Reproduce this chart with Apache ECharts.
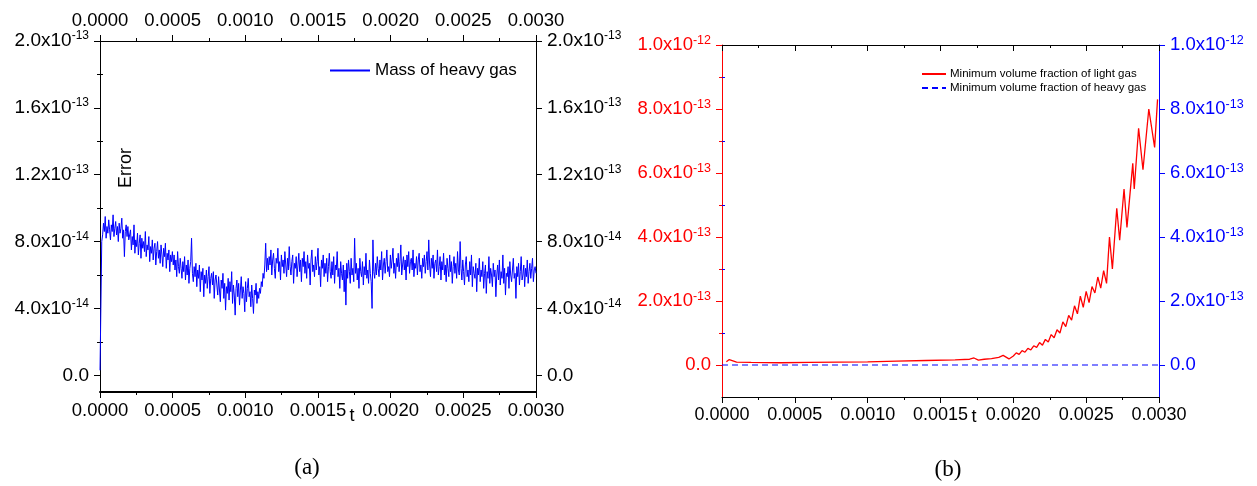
<!DOCTYPE html>
<html>
<head>
<meta charset="utf-8">
<script src="https://cdn.jsdelivr.net/npm/echarts@6/dist/echarts.min.js"></script>
<style>html,body{margin:0;padding:0;background:#fff}#c{width:1257px;height:486px}</style>
</head>
<body>
<div id="c"></div>
<script>
// ---------- DATA ----------
// (a) Error in mass of heavy gas, values in units of 1e-14, equally spaced in t from 0 to 0.003
const massT0 = 0, massT1 = 0.003;
const massHeavyGas = [
  0.3, 4.0, 8.0,
  8.4, 9.1, 8.6, 9.5, 8.2, 8.9, 8.5, 9.3, 8.7, 8.1, 9.0, 8.6, 9.6, 8.3, 8.8, 9.2, 8.4, 8.9, 8.0, 9.1, 8.5, 8.8, 9.4, 8.2, 8.7, 7.1, 8.6, 9.0, 8.3, 8.9, 8.1,
  8.0, 8.7, 7.5, 8.3, 7.8, 9.0, 7.3, 8.1, 7.7, 8.5, 7.2, 7.9, 8.4, 7.0, 8.2, 7.6, 8.0, 7.4, 8.6, 7.1,
  7.8, 7.5, 8.3, 6.8, 7.7, 7.3, 8.1, 6.9, 7.6, 7.9, 6.6, 7.4, 8.0, 7.0, 7.5, 6.7, 7.8, 7.2, 6.5, 7.6,
  7.1, 7.9, 6.4, 7.3, 6.9, 7.5, 6.2, 7.2, 6.8, 7.4,
  6.6, 7.2, 6.3, 6.9, 5.9, 7.4, 6.5, 6.1, 7.0, 6.4, 5.8, 6.8, 6.2, 7.1, 5.7, 6.6, 6.0, 6.9, 5.5, 6.4,
  6.8, 8.2, 6.1, 5.6, 6.5, 5.9, 6.7, 5.3, 6.3, 5.8, 6.6, 5.0, 6.2, 5.7, 6.4, 4.7, 6.0, 5.5, 6.3, 5.2,
  5.9, 6.5, 4.9, 5.8, 6.1, 5.4, 6.2, 4.6, 5.7, 6.0,
  5.4, 4.8, 5.9, 5.1, 4.4, 5.7, 5.2, 6.1, 4.6, 5.5, 3.9, 5.3, 4.9, 5.8, 4.5, 5.6, 5.0, 6.2, 4.3, 5.4,
  4.8, 3.6, 5.2, 5.7, 4.7, 5.5, 4.2, 5.1, 5.9, 4.6, 5.3, 4.9, 3.8, 5.6, 4.4, 5.2, 5.8, 4.7, 5.0, 4.1,
  5.4, 4.6, 3.7, 5.1, 4.8, 5.5, 4.3, 5.0, 4.6, 5.2,
  4.9, 5.6, 5.3, 6.1, 5.8, 6.6, 7.9, 6.2, 7.0,
  6.3, 7.1, 6.6, 7.5, 6.0, 6.9, 7.3, 6.4, 5.8, 7.0, 6.7, 7.6, 6.2, 6.8, 5.7, 7.2, 6.5, 6.9, 6.1, 7.4,
  6.6, 5.9, 7.0, 6.3, 7.7, 6.5, 6.0, 6.8, 7.2, 5.5, 6.7, 6.4, 7.1, 5.9, 6.6, 7.3, 6.2, 6.9, 5.6, 7.0,
  6.5, 7.4, 6.1, 6.8, 5.8, 7.2, 6.4, 6.7, 5.4, 6.9, 7.5, 6.2, 6.6, 5.9, 7.1, 6.3, 6.8, 7.6, 6.0, 6.5,
  5.3, 6.9, 6.4, 7.2, 5.9, 6.7, 6.1, 7.0, 5.6, 6.5, 7.3, 6.2, 5.8, 6.8, 6.0, 7.1, 5.5, 6.6, 6.3, 7.4,
  5.9, 6.4, 5.2, 6.8, 6.1, 5.7, 6.6, 5.0, 6.3, 4.2, 6.7, 5.8, 6.9, 6.2, 5.5, 7.0, 6.0, 6.4, 5.6, 8.2,
  6.1, 6.7, 5.7, 6.4, 5.2, 7.0, 6.2, 5.9, 6.8, 5.4, 6.5, 6.0, 7.3, 5.8, 6.3, 5.5, 6.9, 6.1, 5.6, 4.0,
  8.1, 6.2, 5.8, 6.7, 6.0, 7.1, 6.4, 5.9, 6.9, 6.3, 7.4, 5.7, 6.6, 7.0, 6.1, 6.8, 7.5, 6.2, 6.5, 5.9,
  7.2, 6.4, 6.9, 7.6, 6.1, 6.7, 5.8, 7.0, 6.5, 7.3, 6.2, 6.8, 7.8, 6.0, 6.6, 7.1, 6.3, 6.9, 5.7, 7.2,
  6.5, 7.4, 6.1, 6.8, 7.0, 6.3, 7.5, 5.9, 6.7, 6.4, 7.1, 6.0, 6.9, 7.3, 6.2, 6.6, 5.8, 7.0, 6.5, 7.2,
  6.1, 6.8, 7.4, 6.3, 8.1, 6.6, 5.9, 7.0, 6.4, 7.2, 5.8, 6.7, 6.9, 6.2, 7.5, 6.0, 6.5, 7.1, 5.7, 6.8,
  6.3, 7.3, 6.0, 6.6, 5.6, 7.0, 6.4, 5.9, 7.2, 6.2, 6.8, 5.5, 6.5, 7.1, 6.1, 6.7, 5.8, 7.4, 6.3, 6.0,
  8.0, 6.4, 5.7, 6.9, 6.2, 5.4, 6.6, 7.1, 5.9, 6.3, 5.6, 6.8, 6.0, 7.2, 5.3, 6.5, 6.1, 5.8, 6.7, 5.0,
  6.4, 6.0, 7.0, 5.6, 6.3, 5.9, 6.8, 5.2, 6.1, 6.6, 4.9, 6.2, 5.8, 7.1, 5.5, 6.4, 6.0, 5.3, 6.7, 5.9,
  6.3, 4.7, 6.0, 6.6, 5.7, 6.9, 5.4, 6.2, 5.8, 7.2, 5.5, 6.4, 4.8, 6.1, 5.9, 6.5, 5.2, 6.8, 6.0, 5.6,
  6.3, 7.0, 5.8, 6.1, 4.6, 6.5, 5.9, 6.7, 5.4, 6.2, 7.1, 5.7, 6.0, 6.6, 5.3, 6.4, 5.9, 6.9, 5.5, 6.2,
  6.7, 5.8, 6.4, 7.0, 5.6, 6.3, 6.5, 6.1
];
// (b) Minimum volume fraction of light gas, values in units of 1e-13
const lightGasT = [
  0.00003, 0.00005, 0.00007, 0.0001, 0.0002, 0.0004, 0.0006, 0.0008, 0.0010, 0.0012, 0.0014, 0.0016,
  0.0017, 0.00173, 0.00176, 0.0018, 0.00185, 0.0019, 0.00193, 0.00197,
  0.00200, 0.00202, 0.00204, 0.00206, 0.00208, 0.00210, 0.00212, 0.00214, 0.00216, 0.00218,
  0.00220, 0.00222, 0.00224, 0.00226, 0.00228, 0.00230, 0.00232, 0.00234, 0.00236, 0.00238,
  0.00240, 0.00242, 0.00244, 0.00246, 0.00248, 0.00250, 0.00252, 0.00254, 0.00256, 0.00258,
  0.00260, 0.00262, 0.00264, 0.00266, 0.00268, 0.00271, 0.00273, 0.00276, 0.00278, 0.00282,
  0.00283, 0.00286, 0.00289, 0.00293, 0.00297, 0.00299
];
const lightGasV = [
  0.10, 0.17, 0.14, 0.09, 0.08, 0.07, 0.08, 0.09, 0.10, 0.12, 0.14, 0.16,
  0.18, 0.22, 0.15, 0.18, 0.20, 0.24, 0.30, 0.19,
  0.28, 0.38, 0.33, 0.45, 0.40, 0.52, 0.47, 0.60, 0.55, 0.70,
  0.62, 0.80, 0.72, 0.95, 0.85, 1.10, 1.00, 1.35, 1.20, 1.55,
  1.40, 1.85, 1.60, 2.15, 1.80, 2.30, 1.95, 2.45, 2.25, 2.75,
  2.40, 2.95, 2.55, 4.00, 3.00, 4.90, 3.90, 5.50, 4.30, 6.30,
  5.50, 7.40, 6.10, 8.00, 6.80, 8.30
];
// (b) Minimum volume fraction of heavy gas, units of 1e-13
const heavyGasT = [0, 0.0005, 0.0010, 0.0015, 0.0020, 0.0025, 0.0030];
const heavyGasV = [0, 0, 0, 0, 0, 0, 0];
// axis ticks
const xTicks = { min: 0, max: 0.003, step: 0.0005 };
const yTicksA = [0, 4, 8, 12, 16, 20];      // x1e-14
const yMinorA = [2, 6, 10, 14, 18];
const yRangeA = [-1, 20];
const yTicksB = [0, 2, 4, 6, 8, 10];        // x1e-13
const yMinorB = [1, 3, 5, 7, 9];
const yRangeB = [-1, 10];

// ---------- BUILD ----------
const FONT = 'Liberation Sans';
const massData = massHeavyGas.map((v, i) => [massT0 + (massT1 - massT0) * i / (massHeavyGas.length - 1), v]);
const lightData = lightGasT.map((t, i) => [t, lightGasV[i]]);
const heavyData = heavyGasT.map((t, i) => [t, heavyGasV[i]]);

function sci(unitExp) {
  return function (v) {
    if (Math.abs(v) < 1e-9) return '{m|0.0}';
    const p = Math.floor(Math.log10(Math.abs(v)) + 1e-9);
    const m = v / Math.pow(10, p);
    return '{m|' + m.toFixed(1) + 'x10}{s|' + (unitExp + p) + '}';
  };
}
function rich(color, size, ssize) {
  return {
    m: { fontSize: size, lineHeight: 22, color: color, fontFamily: FONT },
    s: { fontSize: ssize, lineHeight: 12, color: color, fontFamily: FONT, verticalAlign: 'top' }
  };
}
function xAxis(grid, pos, opts) {
  return {
    type: 'value', gridIndex: grid, position: pos,
    min: xTicks.min, max: xTicks.max, interval: xTicks.step,
    axisLine: { show: true, onZero: false, lineStyle: { color: '#000', width: opts.lineWidth || 1 } },
    axisTick: { show: true, inside: !!opts.inside, length: 6, lineStyle: { color: '#000' } },
    minorTick: { show: true, splitNumber: 2, length: 3, lineStyle: { color: '#000' } },
    splitLine: { show: false }, minorSplitLine: { show: false },
    axisLabel: {
      show: opts.labels !== false, margin: opts.margin || 9, color: '#000',
      fontSize: opts.fontSize || 18, fontFamily: FONT,
      formatter: v => v.toFixed(4)
    }
  };
}
function yAxis(grid, pos, range, ticks, color, unitExp, size, ssize) {
  return {
    type: 'value', gridIndex: grid, position: pos, min: range[0], max: range[1],
    axisLine: { show: true, onZero: false, lineStyle: { color: color, width: 1 } },
    axisTick: { show: true, inside: false, length: 6, customValues: ticks, lineStyle: { color: color } },
    splitLine: { show: false },
    axisLabel: {
      show: true, margin: 11, customValues: ticks, color: color,
      formatter: sci(unitExp), rich: rich(color, size, ssize)
    }
  };
}
function yMinor(grid, pos, range, ticks, color) {
  return {
    type: 'value', gridIndex: grid, position: pos, min: range[0], max: range[1],
    axisLine: { show: false },
    axisTick: { show: true, inside: false, length: 3, customValues: ticks, lineStyle: { color: color } },
    splitLine: { show: false },
    axisLabel: { show: false }
  };
}

const option = {
  animation: false,
  backgroundColor: '#ffffff',
  grid: [
    { left: 100, top: 41, width: 436, height: 351, containLabel: false },
    { left: 722, top: 45, width: 437, height: 352, containLabel: false }
  ],
  xAxis: [
    xAxis(0, 'bottom', { lineWidth: 2, fontSize: 18.5, margin: 9 }),
    xAxis(0, 'top', { lineWidth: 1, fontSize: 18.5, margin: 11 }),
    xAxis(1, 'bottom', { lineWidth: 1, fontSize: 18, margin: 9 }),
    xAxis(1, 'top', { lineWidth: 1, labels: false, inside: true })
  ],
  yAxis: [
    yAxis(0, 'left', yRangeA, yTicksA, '#000', -14, 19, 12),
    yMinor(0, 'left', yRangeA, yMinorA, '#000'),
    yAxis(0, 'right', yRangeA, yTicksA, '#000', -14, 19, 12),
    yMinor(0, 'right', yRangeA, yMinorA, '#000'),
    yAxis(1, 'left', yRangeB, yTicksB, '#ff0000', -13, 18.5, 12.5),
    yMinor(1, 'left', yRangeB, yMinorB, '#ff0000'),
    yAxis(1, 'right', yRangeB, yTicksB, '#0000ff', -13, 18.5, 12.5),
    yMinor(1, 'right', yRangeB, yMinorB, '#0000ff')
  ],
  legend: [
    {
      data: ['Mass of heavy gas'], left: 329, top: 62, padding: 0, itemWidth: 40, itemHeight: 14, itemGap: 4,
      itemStyle: { opacity: 0 },
      textStyle: { fontSize: 17, fontFamily: FONT, color: '#000' }
    },
    {
      data: ['Minimum volume fraction of light gas', 'Minimum volume fraction of heavy gas'],
      left: 921, top: 68, padding: 0, orient: 'vertical', itemWidth: 24, itemHeight: 12, itemGap: 2,
      itemStyle: { opacity: 0 },
      textStyle: { fontSize: 11.5, fontFamily: FONT, color: '#000', padding: [0, 0, 0, -1] }
    }
  ],
  series: [
    {
      name: 'Mass of heavy gas', type: 'line', xAxisIndex: 0, yAxisIndex: 0,
      data: massData, showSymbol: false, symbol: 'none',
      lineStyle: { color: '#0000ff', width: 1 }, itemStyle: { color: '#0000ff' }
    },
    {
      name: 'Minimum volume fraction of light gas', type: 'line', xAxisIndex: 2, yAxisIndex: 4,
      data: lightData, showSymbol: false, symbol: 'none',
      lineStyle: { color: '#ff0000', width: 1.3 }, itemStyle: { color: '#ff0000' }
    },
    {
      name: 'Minimum volume fraction of heavy gas', type: 'line', xAxisIndex: 2, yAxisIndex: 6,
      data: heavyData, showSymbol: false, symbol: 'none',
      lineStyle: { color: '#0000ff', width: 1.2, type: [6, 4] }, itemStyle: { color: '#0000ff' }
    }
  ],
  graphic: [
    { type: 'text', x: 352, y: 416, style: { text: 't', fontSize: 18, fontFamily: FONT, fill: '#000', align: 'center', verticalAlign: 'middle', textAlign: 'center', textVerticalAlign: 'middle' } },
    { type: 'text', x: 974, y: 417, style: { text: 't', fontSize: 18, fontFamily: FONT, fill: '#000', align: 'center', verticalAlign: 'middle', textAlign: 'center', textVerticalAlign: 'middle' } },
    { type: 'text', x: 126, y: 168, rotation: Math.PI / 2, style: { text: 'Error', fontSize: 18, fontFamily: FONT, fill: '#000', align: 'center', verticalAlign: 'middle', textAlign: 'center', textVerticalAlign: 'middle' } },
    { type: 'text', x: 307, y: 468, style: { text: '(a)', fontSize: 23, fontFamily: 'Liberation Serif', fill: '#000', align: 'center', verticalAlign: 'middle', textAlign: 'center', textVerticalAlign: 'middle' } },
    { type: 'text', x: 948, y: 470, style: { text: '(b)', fontSize: 23, fontFamily: 'Liberation Serif', fill: '#000', align: 'center', verticalAlign: 'middle', textAlign: 'center', textVerticalAlign: 'middle' } }
  ]
};
const chart = echarts.init(document.getElementById('c'), null, { renderer: 'canvas' });
chart.setOption(option);
</script>
</body>
</html>
